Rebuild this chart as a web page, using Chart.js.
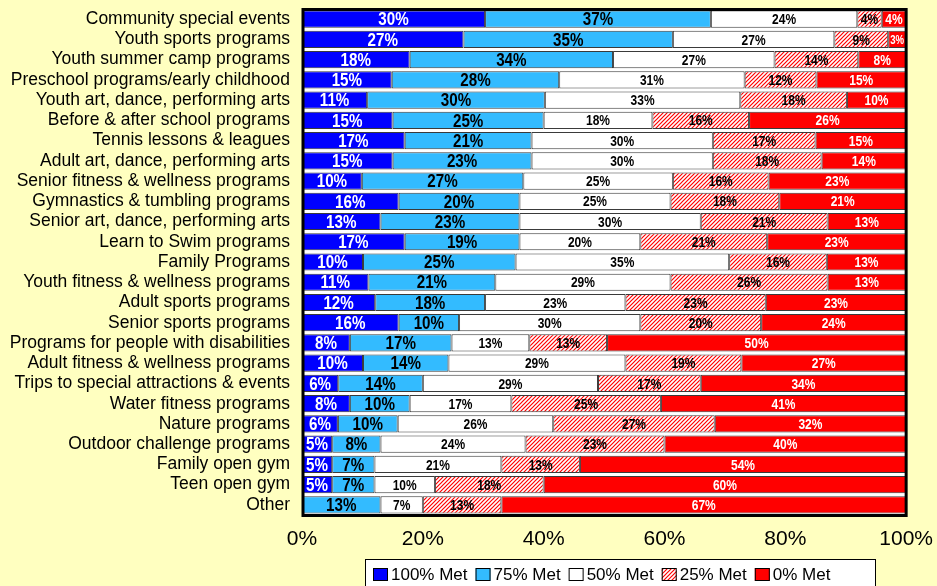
<!DOCTYPE html>
<html>
<head>
<meta charset="utf-8">
<script src="https://cdn.jsdelivr.net/npm/chart.js@4.4.1/dist/chart.umd.min.js"></script>
<style>
  html, body { margin: 0; padding: 0; background: #FFFFC0; }
  canvas { display: block; }
</style>
</head>
<body>
<canvas id="myChart" width="937" height="586"></canvas>
<script>
const categories = [
  'Community special events', 'Youth sports programs', 'Youth summer camp programs',
  'Preschool programs/early childhood', 'Youth art, dance, performing arts',
  'Before & after school programs', 'Tennis lessons & leagues', 'Adult art, dance, performing arts',
  'Senior fitness & wellness programs', 'Gymnastics & tumbling programs',
  'Senior art, dance, performing arts', 'Learn to Swim programs', 'Family Programs',
  'Youth fitness & wellness programs', 'Adult sports programs', 'Senior sports programs',
  'Programs for people with disabilities', 'Adult fitness & wellness programs',
  'Trips to special attractions & events', 'Water fitness programs', 'Nature programs',
  'Outdoor challenge programs', 'Family open gym', 'Teen open gym', 'Other'
];
const met100 = [30, 27, 18, 15, 11, 15, 17, 15, 10, 16, 13, 17, 10, 11, 12, 16, 8, 10, 6, 8, 6, 5, 5, 5, 0];
const met75  = [37, 35, 34, 28, 30, 25, 21, 23, 27, 20, 23, 19, 25, 21, 18, 10, 17, 14, 14, 10, 10, 8, 7, 7, 13];
const met50  = [24, 27, 27, 31, 33, 18, 30, 30, 25, 25, 30, 20, 35, 29, 23, 30, 13, 29, 29, 17, 26, 24, 21, 10, 7];
const met25  = [4, 9, 14, 12, 18, 16, 17, 18, 16, 18, 21, 21, 16, 26, 23, 20, 13, 19, 17, 25, 27, 23, 13, 18, 13];
const met0   = [4, 3, 8, 15, 10, 26, 15, 14, 23, 21, 13, 23, 13, 13, 23, 24, 50, 27, 34, 41, 32, 40, 54, 60, 67];
const seriesNames = ['100% Met', '75% Met', '50% Met', '25% Met', '0% Met'];
const xTicks = [0, 20, 40, 60, 80, 100];

const axisFont = "'Liberation Sans', Arial, sans-serif";
const narrow = 0.8; // squeeze bold labels to look like Arial Narrow

// red diagonal hatch for 25% Met
const makeHatch = () => {
  const c = document.createElement('canvas');
  c.width = 4; c.height = 4;
  const g = c.getContext('2d');
  g.fillStyle = '#fff';
  g.fillRect(0, 0, 4, 4);
  g.strokeStyle = '#ff0000';
  g.lineWidth = 1.2;
  g.beginPath();
  g.moveTo(0, 4); g.lineTo(4, 0);
  g.moveTo(-1, 1); g.lineTo(1, -1);
  g.moveTo(3, 5); g.lineTo(5, 3);
  g.stroke();
  return g.createPattern(c, 'repeat');
};
const hatch = makeHatch();

const totals = categories.map((c, i) => met100[i] + met75[i] + met50[i] + met25[i] + met0[i]);
const share = (arr) => arr.map((v, i) => v / totals[i] * 100);

const styles = [
  { bg: '#0000FF', text: '#fff', size: 19 },
  { bg: '#33BBFF', text: '#000', size: 19 },
  { bg: '#FFFFFF', text: '#000', size: 15 },
  { bg: hatch,     text: '#000', size: 15 },
  { bg: '#FF0000', text: '#fff', size: 15 }
];
const rawSeries = [met100, met75, met50, met25, met0];

const datasets = rawSeries.map((arr, k) => ({
  label: seriesNames[k],
  data: share(arr),
  raw: arr,
  backgroundColor: styles[k].bg,
  borderColor: '#3a3a3a',
  borderWidth: 1,
  borderSkipped: false,
  barPercentage: 0.85,
  categoryPercentage: 1
}));

const bgPlugin = {
  id: 'bg',
  beforeDraw: (chart) => {
    const ctx = chart.ctx;
    ctx.save();
    ctx.fillStyle = '#FFFFC0';
    ctx.fillRect(0, 0, chart.width, chart.height);
    const a = chart.chartArea;
    ctx.fillStyle = '#ffffff';
    ctx.fillRect(a.left, a.top, a.right - a.left, a.bottom - a.top);
    ctx.restore();
  }
};

const labelPlugin = {
  id: 'segLabels',
  afterDatasetsDraw: (chart) => {
    const ctx = chart.ctx;
    ctx.save();
    ctx.textAlign = 'center';
    ctx.textBaseline = 'middle';
    chart.data.datasets.forEach((ds, k) => {
      const meta = chart.getDatasetMeta(k);
      meta.data.forEach((bar, i) => {
        const v = ds.raw[i];
        if (!v) return;
        const w = Math.abs(bar.x - bar.base);
        const txt = v + '%';
        let size = styles[k].size;
        ctx.font = 'bold ' + size + 'px ' + axisFont;
        while (size > 8 && ctx.measureText(txt).width * narrow > w - 4) {
          size -= 1;
          ctx.font = 'bold ' + size + 'px ' + axisFont;
        }
        ctx.save();
        ctx.translate((bar.x + bar.base) / 2, bar.y + 1);
        ctx.scale(narrow, 1);
        ctx.fillStyle = styles[k].text;
        ctx.fillText(txt, 0, 0);
        ctx.restore();
      });
    });
    // plot frame
    const a = chart.chartArea;
    ctx.strokeStyle = '#000';
    ctx.lineWidth = 3;
    ctx.strokeRect(a.left + 1, a.top + 0.5, a.right - a.left - 1, a.bottom - a.top);
    ctx.restore();
  }
};

const legendPlugin = {
  id: 'boxLegend',
  afterDraw: (chart) => {
    const ctx = chart.ctx;
    ctx.save();
    ctx.font = '17px ' + axisFont;
    ctx.textBaseline = 'middle';
    ctx.fillStyle = '#fff';
    ctx.fillRect(365, 559, 511, 40);
    ctx.strokeStyle = '#000';
    ctx.lineWidth = 1;
    ctx.strokeRect(365.5, 559.5, 510, 40);
    let x = 373;
    seriesNames.forEach((name, k) => {
      ctx.fillStyle = styles[k].bg;
      ctx.fillRect(x, 568, 15, 13);
      ctx.strokeStyle = '#000';
      ctx.strokeRect(x + 0.5, 568.5, 14, 12);
      ctx.fillStyle = '#000';
      ctx.fillText(name, x + 18, 575);
      x += 18 + ctx.measureText(name).width + 8;
    });
    ctx.restore();
  }
};

const ctx = document.getElementById('myChart').getContext('2d');
const chart = new Chart(ctx, {
  type: 'bar',
  data: { labels: categories, datasets: datasets },
  options: {
    indexAxis: 'y',
    responsive: false,
    animation: false,
    devicePixelRatio: 1,
    layout: { padding: { left: 0, top: 9, right: 28, bottom: 30 } },
    plugins: {
      legend: { display: false },
      tooltip: { enabled: false }
    },
    scales: {
      x: {
        stacked: true,
        min: 0,
        max: 100,
        afterBuildTicks: (s) => { s.ticks = xTicks.map(v => ({ value: v })); },
        ticks: {
          callback: (v) => v + '%',
          color: '#000',
          font: { family: axisFont, size: 21 },
          padding: 4,
          maxRotation: 0
        },
        grid: { display: false },
        border: { display: false },
        afterFit: (s) => { s.height = 41; }
      },
      y: {
        stacked: true,
        ticks: {
          color: '#000',
          font: { family: axisFont, size: 17.5 },
          padding: 4,
          autoSkip: false
        },
        grid: { display: false },
        border: { display: false },
        afterFit: (s) => { s.width = 302; s.paddingTop = 0; s.paddingBottom = 0; }
      }
    }
  },
  plugins: [bgPlugin, labelPlugin, legendPlugin]
});
</script>
</body>
</html>
